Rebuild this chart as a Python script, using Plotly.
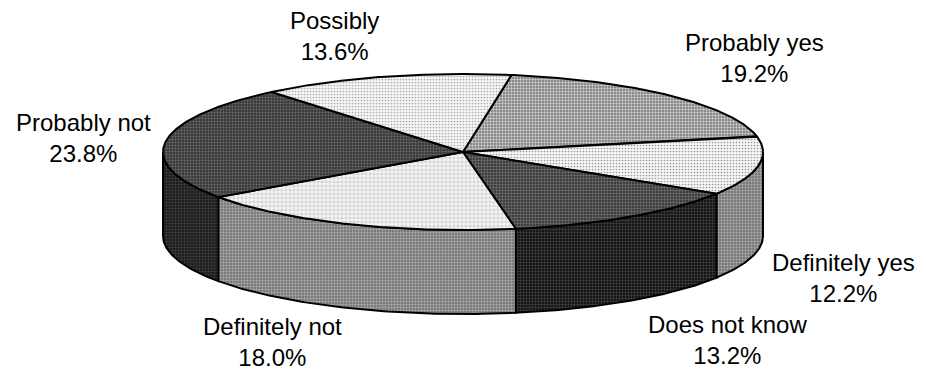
import numpy as np
import plotly.graph_objects as go

# Survey answers, clockwise from the first slice
categories = ["Probably yes", "Definitely yes", "Does not know",
              "Definitely not", "Probably not", "Possibly"]
shares = [19.2, 12.2, 13.2, 18.0, 23.8, 13.6]

# Fills for the top face and the side wall of each slice: (bg, fg, pattern shape, size, solidity)
top_fill = [
    ("#8a8a8a", "#d6d6d6", "+", 3, 0.35),
    ("#f6f6f6", "#9a9a9a", ".", 3, 0.25),
    ("#3e3e3e", "#7e7e7e", "+", 3, 0.3),
    ("#f7f7f7", "#a4a4a4", "+", 4, 0.2),
    ("#3a3a3a", "#6c6c6c", ".", 3, 0.35),
    ("#f5f5f5", "#acacac", ".", 3, 0.25),
]
side_fill = [
    ("#6a6a6a", "#9a9a9a", "+", 3, 0.3),
    ("#787878", "#b2b2b2", ".", 3, 0.35),
    ("#161616", "#4c4c4c", "+", 3, 0.3),
    ("#7a7a7a", "#b6b6b6", "+", 3, 0.3),
    ("#1c1c1c", "#474747", "+", 3, 0.3),
    ("#8a8a8a", "#bcbcbc", ".", 3, 0.3),
]

# Label anchor points (pixel space of the canvas)
label_pos = [(754, 58), (843, 278), (727, 340), (272, 342), (83, 138), (334, 36)]

# Geometry of the tilted disc (pixel units, y grows downward)
W, H = 926, 379
cx, cy = 463, 152
rx, ry = 300, 78
depth = 84
start_deg = 9.3

def rim(t_deg, drop=0.0):
    t = np.radians(t_deg)
    return cx + rx * np.sin(t), cy - ry * np.cos(t) + drop

def fill_style(spec):
    bg, fg, shape, size, sol = spec
    return dict(fillcolor=bg,
                fillpattern=dict(shape=shape, bgcolor=bg, fgcolor=fg,
                                 size=size, solidity=sol, fillmode="replace"))

# Angular extents of each slice from the shares
edges = start_deg + 360.0 * np.concatenate([[0], np.cumsum(shares)]) / sum(shares)

fig = go.Figure()

# Side walls: only the front half (90..270 degrees clockwise from 12 o'clock) is visible
for i in range(len(shares)):
    a, b = edges[i], edges[i + 1]
    for off in (0.0, 360.0):
        lo, hi = max(a, 90 + off), min(b, 270 + off)
        if hi <= lo:
            continue
        t = np.linspace(lo, hi, 80)
        xt, yt = rim(t)
        xb, yb = rim(t[::-1], depth)
        xs = np.concatenate([xt, xb, xt[:1]])
        ys = np.concatenate([yt, yb, yt[:1]])
        fig.add_trace(go.Scatter(x=xs, y=ys, mode="lines", fill="toself",
                                 line=dict(color="black", width=2),
                                 hoverinfo="skip", showlegend=False,
                                 **fill_style(side_fill[i])))

# Top face sectors
for i, name in enumerate(categories):
    a, b = edges[i], edges[i + 1]
    t = np.linspace(a, b, 160)
    xa, ya = rim(t)
    xs = np.concatenate([[cx], xa, [cx]])
    ys = np.concatenate([[cy], ya, [cy]])
    fig.add_trace(go.Scatter(x=xs, y=ys, mode="lines", fill="toself",
                             line=dict(color="black", width=2),
                             name=name, hoverinfo="name", showlegend=False,
                             **fill_style(top_fill[i])))

# Category labels with their percentages
for name, val, (lx, ly) in zip(categories, shares, label_pos):
    fig.add_annotation(x=lx, y=ly, xref="x", yref="y", showarrow=False,
                       text=f"{name}<br>{val:.1f}%", align="center",
                       font=dict(family="Liberation Sans, Arial, sans-serif",
                                 size=24, color="black"))

fig.update_xaxes(range=[0, W], visible=False, fixedrange=True)
fig.update_yaxes(range=[H, 0], visible=False, fixedrange=True)
fig.update_layout(width=W, height=H, margin=dict(l=0, r=0, t=0, b=0),
                  paper_bgcolor="white", plot_bgcolor="white")

fig.write_html("out.html")
